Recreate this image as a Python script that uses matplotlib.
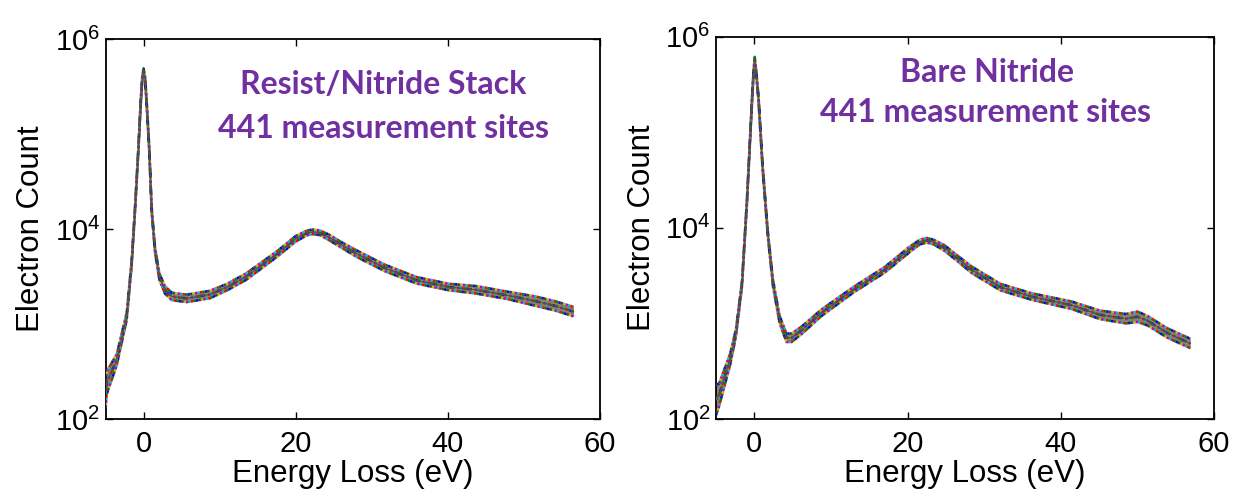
import numpy as np
import matplotlib
matplotlib.use('Agg')
import matplotlib.pyplot as plt

plt.rcParams['font.family'] = ['Liberation Sans', 'DejaVu Sans']
plt.rcParams['mathtext.fontset'] = 'custom'
plt.rcParams['mathtext.rm'] = 'Liberation Sans'
plt.rcParams['mathtext.it'] = 'Liberation Sans:italic'
plt.rcParams['mathtext.bf'] = 'Liberation Sans:bold'

# Resist/Nitride stack: typical spectrum and site-to-site scatter (half width, decades)
stack_energy = [-5.0, -4.85, -3.54, -2.22, -1.57, -1.13, -0.69, -0.38, -0.18, 0.0, 0.2,
                0.4, 0.75, 1.06, 1.5, 2.07, 2.8, 3.7, 5.66, 8.7, 11.0, 13.5, 17.6, 20.0,
                21.5, 22.3, 23.2, 24.4, 26.0, 28.0, 31.7, 35.9, 40.1, 43.7, 47.9, 51.5,
                54.1, 56.5]
stack_counts = [178, 240, 417, 1200, 4370, 15850, 67600, 214000, 380000, 457000, 380000,
                214000, 67600, 15850, 6030, 3160, 2290, 1950, 1860, 2040, 2450, 3160, 5500, 7900,
                9100, 9330, 9100, 8130, 6800, 5500, 3890, 2880, 2450, 2290, 1995, 1740,
                1550, 1350]
stack_spread = [0.16, 0.12, 0.06, 0.04, 0.03, 0.03, 0.03, 0.03, 0.03, 0.03, 0.03,
                0.03, 0.03, 0.03, 0.03, 0.035, 0.04, 0.04, 0.04, 0.04, 0.035, 0.035, 0.03, 0.03,
                0.025, 0.025, 0.025, 0.03, 0.03, 0.035, 0.035, 0.035, 0.035, 0.04, 0.04, 0.05,
                0.05, 0.05]

# Bare nitride
nitride_energy = [-5.0, -4.6, -3.17, -2.4, -1.6, -0.95, -0.3, -0.1, 0.05, 0.25, 0.56,
                  1.08, 1.76, 2.44, 3.3, 4.2, 4.87, 6.2, 8.75, 12.9, 17.0, 20.2, 21.6,
                  22.5, 23.4, 24.8, 26.5, 28.4, 32.1, 36.2, 41.4, 45.1, 48.5, 50.0, 51.3,
                  53.9, 56.9]
nitride_counts = [158, 178, 417, 794, 2630, 19500, 219000, 420000, 575000, 420000, 219000,
                  43600, 8710, 2630, 1100, 708, 708, 851, 1290, 2240, 3630, 5890, 7100,
                  7410, 7100, 6170, 4800, 3630, 2400, 1910, 1550, 1230, 1120, 1175, 1070,
                  795, 617]
nitride_spread = [0.16, 0.12, 0.06, 0.04, 0.03, 0.03, 0.03, 0.03, 0.03, 0.03, 0.03,
                  0.03, 0.03, 0.035, 0.04, 0.045, 0.045, 0.04, 0.035, 0.03, 0.03, 0.03, 0.025,
                  0.025, 0.025, 0.03, 0.03, 0.035, 0.035, 0.035, 0.04, 0.045, 0.05, 0.055, 0.05,
                  0.05, 0.05]

panel_titles = [('Resist/Nitride Stack', '441 measurement sites'),
                ('Bare Nitride', '441 measurement sites')]

# MATLAB-style line colour cycle used for the individual sites
site_colors = ['#0000ff', '#008000', '#ff0000', '#00bfbf', '#bf00bf', '#bfbf00', '#404040']


def draw_spectra(ax, energy, counts, spread):
    e = np.asarray(energy, float)
    c = np.asarray(counts, float)
    s = np.asarray(spread, float)
    low = c / 10 ** s
    high = c * 10 ** s
    ax.fill_between(e, low, high, color='#5c5a3e', lw=0, alpha=0.75, zorder=2)
    n = len(site_colors)
    dash = 1.0
    for j, curve in enumerate([low, c, high]):
        for i, col in enumerate(site_colors):
            offset = (i * dash + j * 3.3) % (n * dash)
            ax.plot(e, curve, color=col, lw=1.8,
                    ls=(offset, (dash, (n - 1) * dash)), zorder=3)
    ax.plot(e, c, color='#505050', lw=1.0, zorder=4)


def style_axes(ax):
    ax.set_yscale('log')
    ax.set_xlim(-5, 60)
    ax.set_ylim(1e2, 1e6)
    ax.set_xticks([0, 20, 40, 60])
    ax.set_yticks([1e2, 1e4, 1e6])
    ax.set_yticklabels([r'$\mathregular{10^2}$', r'$\mathregular{10^4}$', r'$\mathregular{10^6}$'])
    ax.minorticks_off()
    ax.tick_params(direction='in', length=5, width=1.0, top=True, right=True,
                   labelsize=21)
    ax.tick_params(axis='x', pad=8)
    ax.tick_params(axis='y', pad=4)
    for sp in ax.spines.values():
        sp.set_linewidth(1.3)
    ax.set_xlabel('Energy Loss (eV)', fontsize=22.5, labelpad=1)
    ax.set_ylabel('Electron Count', fontsize=22.5, labelpad=6)


fig = plt.figure(figsize=(12.33, 4.92), dpi=100)
ax1 = fig.add_axes([0.0856, 0.1484, 0.4011, 0.7724])
ax2 = fig.add_axes([0.5807, 0.1484, 0.4039, 0.7770])

draw_spectra(ax1, stack_energy, stack_counts, stack_spread)
draw_spectra(ax2, nitride_energy, nitride_counts, nitride_spread)
style_axes(ax1)
style_axes(ax2)

purple = '#7030a0'
title_pos = [((383, 85), (383, 128)), ((987, 72), (986, 113))]
for lines, spots in zip(panel_titles, title_pos):
    for txt, (px, py) in zip(lines, spots):
        fig.text(px / 1233, 1 - py / 492, txt, ha='center', va='center',
                 fontsize=23, fontweight='bold', color=purple, family='Lato')

fig.savefig('out.png', dpi=100)
